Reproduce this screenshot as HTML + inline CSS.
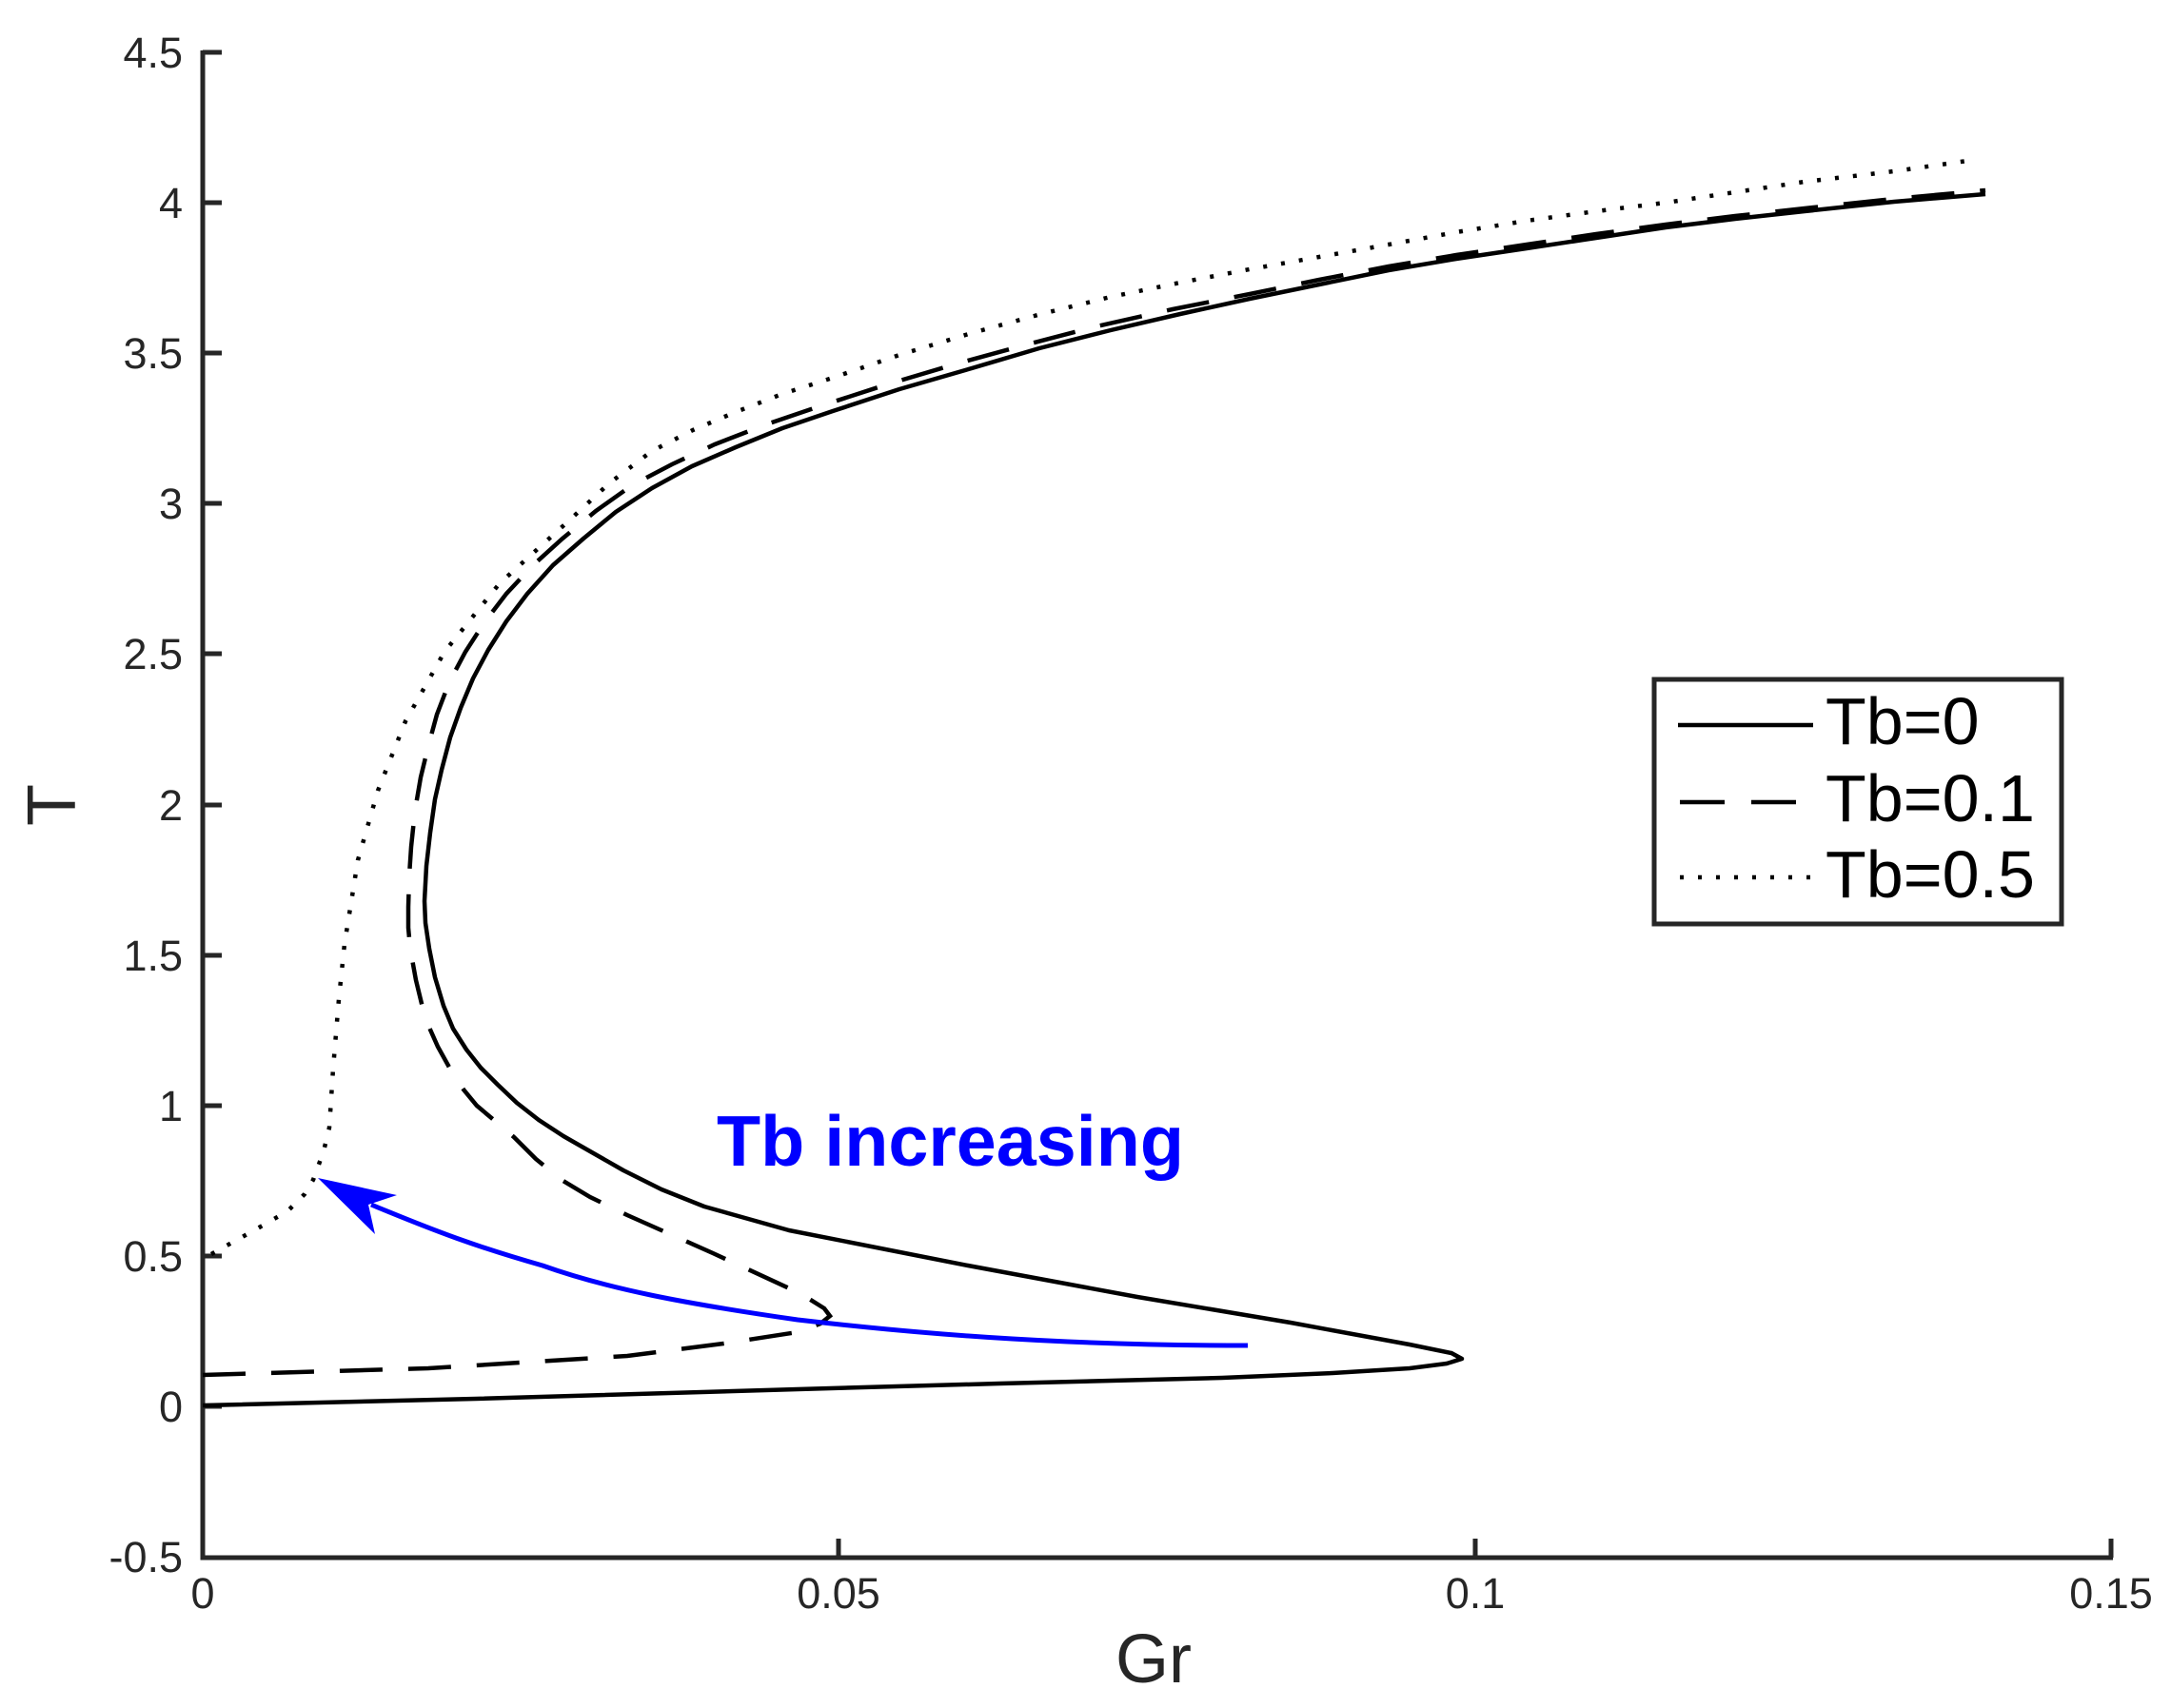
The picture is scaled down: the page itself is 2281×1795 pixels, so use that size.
<!DOCTYPE html>
<html><head><meta charset="utf-8"><style>
html,body{margin:0;padding:0;background:#fff;}
svg{display:block;}
text{font-family:"Liberation Sans",sans-serif;}
</style></head><body>
<svg width="2281" height="1795" viewBox="0 0 2281 1795" xmlns="http://www.w3.org/2000/svg">
<rect width="2281" height="1795" fill="#fff"/>
<g stroke="#262626" stroke-width="5" fill="none">
<path d="M213,53 V1637 H2220"/>
<path d="M213,55 h20 M213,213 h20 M213,371 h20 M213,529 h20 M213,687 h20 M213,846 h20 M213,1004 h20 M213,1162 h20 M213,1320 h20 M213,1478 h20"/>
<path d="M881,1637 v-20 M1550,1637 v-20 M2218,1637 v-20"/>
</g>
<g fill="#262626" font-size="45" text-anchor="end">
<text x="192" y="71">4.5</text>
<text x="192" y="229">4</text>
<text x="192" y="387">3.5</text>
<text x="192" y="545">3</text>
<text x="192" y="703">2.5</text>
<text x="192" y="862">2</text>
<text x="192" y="1020">1.5</text>
<text x="192" y="1178">1</text>
<text x="192" y="1336">0.5</text>
<text x="192" y="1494">0</text>
<text x="192" y="1652">-0.5</text>
</g>
<g fill="#262626" font-size="45" text-anchor="middle">
<text x="213" y="1690">0</text>
<text x="881" y="1690">0.05</text>
<text x="1550" y="1690">0.1</text>
<text x="2218" y="1690">0.15</text>
</g>
<text x="1212" y="1768" font-size="72" fill="#262626" text-anchor="middle">Gr</text>
<text transform="translate(79,846) rotate(-90)" font-size="72" fill="#262626" text-anchor="middle">T</text>

<polyline fill="none" stroke="#000" stroke-width="4.5" stroke-linejoin="round"
points="213,1477 500,1470 838,1460 1050,1454 1284,1448 1400,1443 1481,1438 1520,1433 1536,1428 1525,1422 1481,1413 1356,1390 1195,1363 1017,1330 829,1293 740,1268 695,1250 655,1230 620,1210 592,1194 566,1177 543,1159 523,1140 505,1122 490,1103 476,1081 466,1057 457,1027 451,997 447,970 446,947 448,910 452,875 457,840 464,809 473,775 484,744 497,713 513,683 532,653 554,624 581,594 613,566 647,538 685,513 727,490 773,470 822,450 875,432 945,409 1021,387 1092,366 1167,347 1240,330 1313,314 1386,299 1459,284 1530,272 1604,261 1677,250 1750,239 1823,230 1896,222 1990,212 2086,204"/>
<polyline fill="none" stroke="#000" stroke-width="4.5" stroke-dasharray="45,27"
points="213,1445 450,1438 659,1425 760,1412 838,1400 862,1391 872,1383 866,1375 850,1365 838,1358 749,1317 659,1277 620,1258 590,1240 563,1218 540,1195 520,1178 501,1162 487,1145 475,1127 460,1100 452,1082 445,1063 437,1030 431,997 429,975 429,953 430,920 432,890 436,852 442,817 450,784 459,751 472,717 489,685 509,654 532,624 560,594 591,566 626,537 664,510 706,488 751,467 805,446 861,427 932,404 1006,382 1079,362 1152,343 1232,325 1313,309 1386,294 1459,280 1530,268 1604,257 1677,246 1750,236 1823,227 1896,219 1990,209 2086,200"/>
<polyline fill="none" stroke="#000" stroke-width="4.5" stroke-dasharray="4,15" stroke-linejoin="round"
points="222,1318 267,1293 302,1273 320,1255 329,1240 340,1210 346,1185 350,1123 356,1050 362,992 376,904 397,831 426,758 467,685 525,613 598,547 640,508 685,474 728,452 773,433 822,414 875,397 945,373 1021,350 1094,330 1167,312 1240,297 1313,283 1386,270 1459,257 1530,244 1604,232 1677,222 1750,213 1823,202 1896,191 1990,180 2074,168"/>

<path fill="none" stroke="#0000ff" stroke-width="5" d="M1311,1414 C1100,1414 950,1400 838,1387 C720,1370 640,1355 570,1330 C500,1310 460,1295 390,1266"/>
<path fill="#0000ff" d="M334,1238 L417,1256 L387,1266 L394,1297 Z"/>
<text x="753" y="1225" font-size="75" font-weight="bold" fill="#0000ff" textLength="491" lengthAdjust="spacingAndGlyphs">Tb increasing</text>

<rect x="1738" y="714" width="428" height="257" fill="#fff" stroke="#262626" stroke-width="5"/>
<g stroke="#000" stroke-width="4.5">
<line x1="1763" y1="762" x2="1905" y2="762"/>
<line x1="1765" y1="843" x2="1905" y2="843" stroke-dasharray="47,28"/>
<line x1="1765" y1="922" x2="1905" y2="922" stroke-dasharray="4,15"/>
</g>
<g font-size="70" fill="#000">
<text x="1918" y="782">Tb=0</text>
<text x="1918" y="863">Tb=0.1</text>
<text x="1918" y="943">Tb=0.5</text>
</g>
</svg>
</body></html>
